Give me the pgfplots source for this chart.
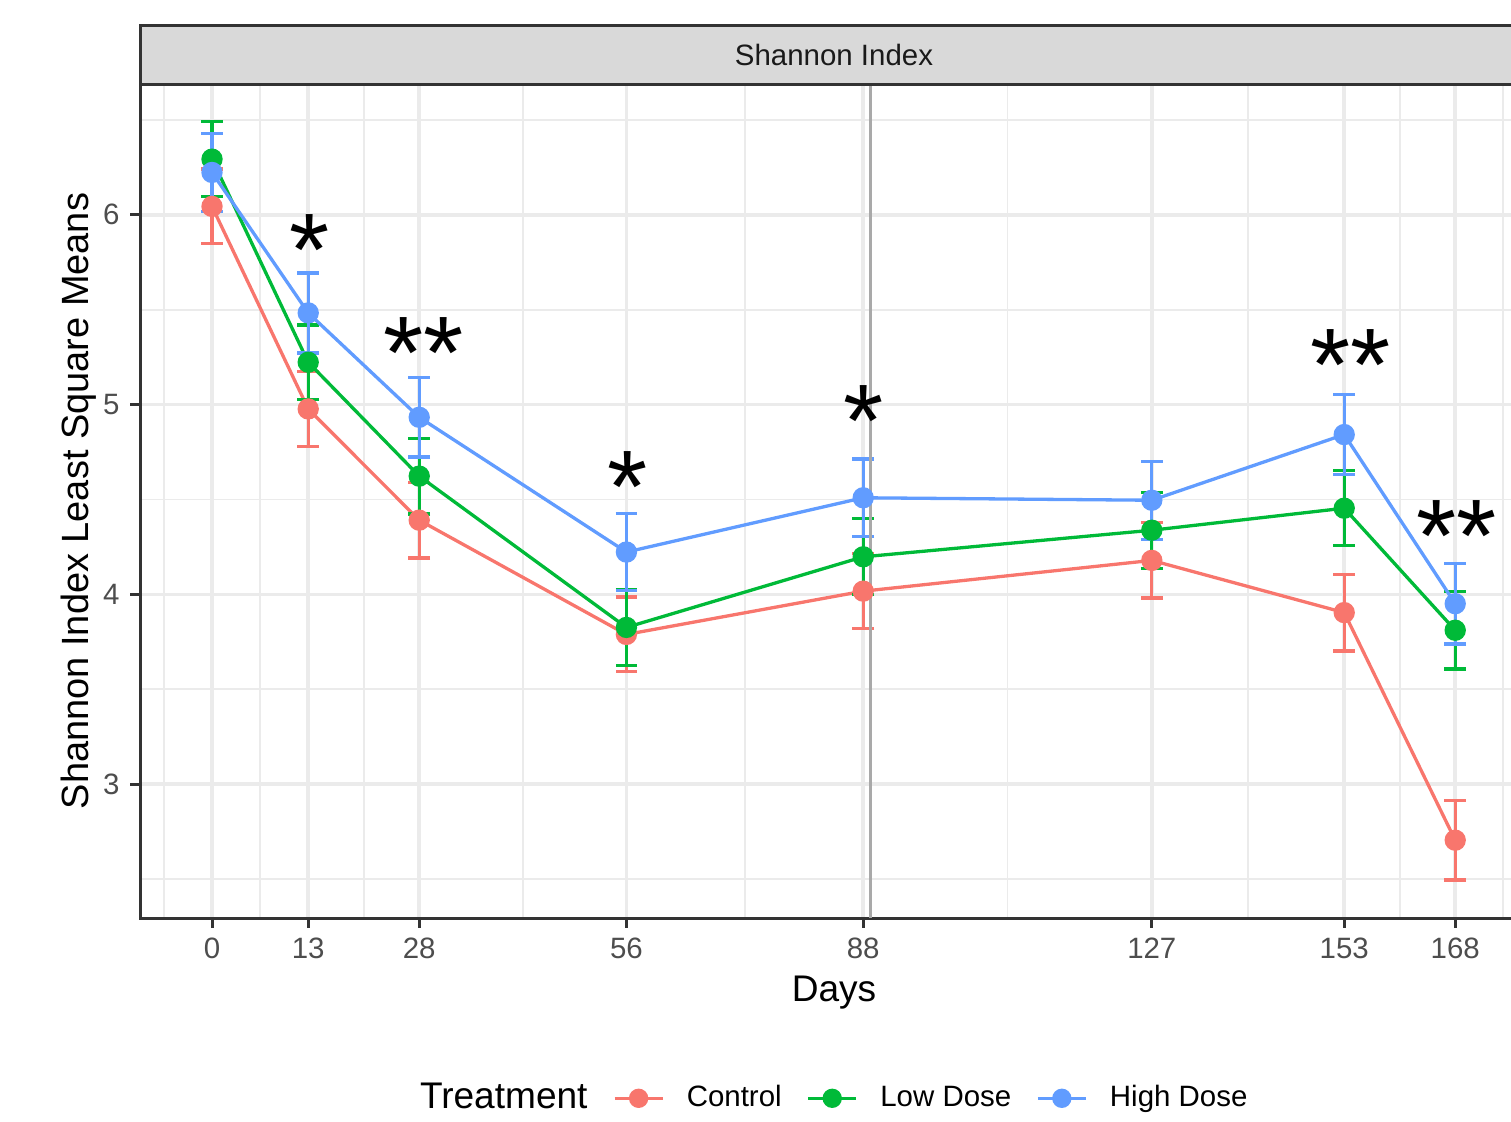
\documentclass[border=0pt]{standalone}
\usepackage{pgfplots}
\pgfplotsset{compat=1.18}
\usepackage{pgfplotstable}
\usepackage{fontspec}
\setmainfont{Liberation Sans}
\definecolor{cctrl}{HTML}{F8766D}
\definecolor{clow}{HTML}{00BA38}
\definecolor{chigh}{HTML}{619CFF}
\definecolor{gridc}{HTML}{EBEBEB}
\definecolor{g20}{HTML}{333333}
\definecolor{g30}{HTML}{4D4D4D}
\definecolor{g10}{HTML}{1A1A1A}
\definecolor{stripc}{HTML}{D9D9D9}
\definecolor{vlinec}{HTML}{A9A9A9}

\pgfplotstableread{
x y e
0 6.044 0.197
13 4.977 0.199
28 4.391 0.199
56 3.789 0.197
88 4.017 0.197
127 4.179 0.198
153 3.904 0.202
168 2.705 0.210
}\ctrl
\pgfplotstableread{
x y e
0 6.293 0.198
13 5.223 0.197
28 4.623 0.199
56 3.826 0.201
88 4.198 0.200
127 4.338 0.200
153 4.454 0.197
168 3.811 0.204
}\low
\pgfplotstableread{
x y e
0 6.223 0.204
13 5.483 0.211
28 4.933 0.209
56 4.223 0.203
88 4.509 0.204
127 4.496 0.205
153 4.842 0.210
168 3.951 0.212
}\high

\pgfplotsset{
  myplot/.style={#1, line width=1.1bp, mark=*, mark size=3bp,
    mark options={solid, fill=#1, draw=none},
    error bars/.cd, y dir=both, y explicit, error mark=|,
    error bar style={line width=1.1bp, #1},
    error mark options={line width=1.1bp, mark size=3.6bp, #1}},
}

\begin{document}
\begin{tikzpicture}
\begin{axis}[
  at={(46.667bp,-306bp)}, anchor=south west,
  scale only axis, width=462.33bp, height=278bp,
  xmin=-9.73, xmax=177.7, ymin=2.295, ymax=6.689,
  xtick={0,13,28,56,88,127,153,168},
  minor xtick={-6.5,6.5,20.5,42,72,107.5,140,160.5,174.5},
  ytick={3,4,5,6}, minor ytick={2.5,3.5,4.5,5.5,6.5},
  grid=both,
  major grid style={gridc, line width=1.2bp},
  minor grid style={gridc, line width=0.6bp},
  axis line style={g20, line width=1bp},
  tick align=outside, major tick length=3.33bp, minor tick length=0pt,
  tick style={g20, line width=1bp},
  tick pos=left,
  /pgf/number format/assume math mode=true,
  ticklabel style={font=\fontsize{9.85}{11}\selectfont, text=g30},
  xticklabel style={anchor=base, inner sep=0pt, yshift=-10.33bp},
  yticklabel style={anchor=east, inner sep=0pt, xshift=-3.3bp},
  legend columns=-1,
  legend style={at={(0.3410,-0.2007)}, anchor=north west, draw=none, fill=none,
    inner sep=0pt, outer sep=0pt, font=\fontsize{9.85}{11}\selectfont,
    column sep=0pt,
    /tikz/every odd column/.append style={column sep=7.5bp},
    /tikz/every even column/.append style={column sep=8.3bp},
    nodes={inner sep=0pt}},
  legend image code/.code={
    \draw[line width=1.1bp] (0bp,0bp) -- (16bp,0bp);
    \fill (8bp,0bp) circle (2.67bp);},
]
\addplot[myplot=cctrl] table[x=x, y=y, y error=e] {\ctrl};
\addlegendentry{Control}
\addplot[myplot=clow] table[x=x, y=y, y error=e] {\low};
\addlegendentry{Low Dose}
\addplot[myplot=chigh] table[x=x, y=y, y error=e] {\high};
\addlegendentry{High Dose}
\draw[vlinec, line width=1bp] (axis cs:89,2.295) -- (axis cs:89,6.689);
\begin{scope}[every node/.style={font=\fontsize{34.5}{40}\selectfont, anchor=center, yshift=-4.7bp, inner sep=0pt}]
\node at (axis cs:13.2,5.886) {*};
\node at (axis cs:28.6,5.347) {**};
\node at (axis cs:56.1,4.642) {*};
\node at (axis cs:88.1,4.987) {*};
\node at (axis cs:153.8,5.282) {**};
\node at (axis cs:168.2,4.382) {**};
\end{scope}
\end{axis}
% strip
\filldraw[fill=stripc, draw=g20, line width=1bp] (46.667bp,-28bp) rectangle (530bp,-8.5bp);
\node[anchor=base, font=\fontsize{9.85}{11}\selectfont, text=g10, inner sep=0pt] at (278bp,-21.67bp) {Shannon Index};
% axis titles
\node[anchor=base, font=\fontsize{12.4}{14}\selectfont, inner sep=0pt] at (278bp,-333.67bp) {Days};
\node[anchor=base, rotate=90, font=\fontsize{12.7}{14}\selectfont, inner sep=0pt] at (29.5bp,-167bp) {Shannon Index Least Square Means};
\node[anchor=base west, font=\fontsize{12.4}{14}\selectfont, inner sep=0pt] at (139.8bp,-369.4bp) {Treatment};
\pgfresetboundingbox
\useasboundingbox (0bp,0bp) rectangle (503.67bp,-373.67bp);
\end{tikzpicture}
\end{document}
